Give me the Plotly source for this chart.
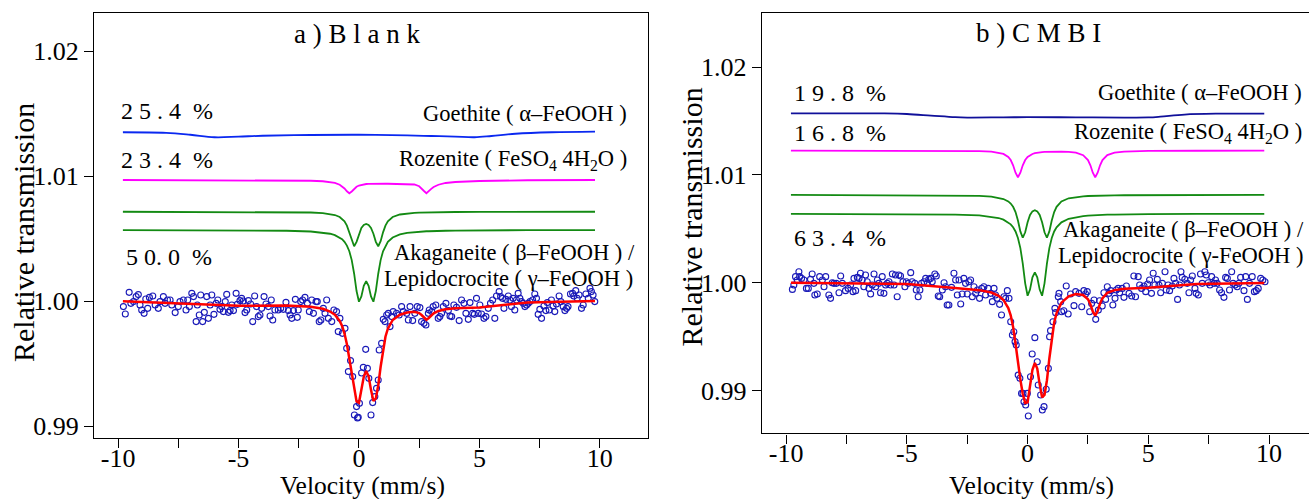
import plotly.graph_objects as go

W, H = 1309, 499

# ---------------- data: panel a (Blank) ----------------
POINTS_A = [
    (-9.78, 0.99955), (-9.70, 0.99896), (-9.54, 1.00069), (-9.47, 0.99981), (-9.36, 0.99995),
    (-9.25, 1.00035), (-9.16, 1.00051), (-9.09, 0.99968), (-9.02, 0.99928), (-8.92, 0.99901),
    (-8.85, 1.00016), (-8.77, 0.99941), (-8.70, 1.00029), (-8.56, 1.00040), (-8.46, 0.99968),
    (-8.33, 0.99941), (-8.26, 0.99995), (-8.12, 1.00035), (-8.05, 0.99981), (-7.95, 1.00008),
    (-7.84, 1.00008), (-7.77, 0.99968), (-7.63, 0.99907), (-7.50, 0.99955), (-7.43, 0.99995),
    (-7.29, 1.00008), (-7.18, 0.99928), (-7.11, 1.00008), (-7.04, 0.99955), (-6.94, 1.00061),
    (-6.87, 1.00035), (-6.76, 0.99835), (-6.71, 0.99968), (-6.63, 0.99888), (-6.57, 1.00048),
    (-6.49, 0.99835), (-6.42, 0.99909), (-6.32, 1.00035), (-6.25, 0.99861), (-6.18, 0.99968),
    (-6.11, 1.00048), (-6.02, 0.99893), (-5.93, 0.99981), (-5.86, 1.00008), (-5.77, 0.99933),
    (-5.70, 0.99955), (-5.63, 0.99915), (-5.55, 0.99995), (-5.49, 1.00053), (-5.42, 0.99909),
    (-5.35, 0.99923), (-5.28, 0.99968), (-5.21, 0.99923), (-5.10, 1.00061), (-5.05, 0.99973),
    (-4.94, 1.00003), (-4.87, 1.00021), (-4.80, 1.00000), (-4.73, 0.99907), (-4.66, 0.99928),
    (-4.59, 1.00003), (-4.50, 0.99976), (-4.41, 0.99835), (-4.33, 1.00040), (-4.25, 0.99955),
    (-4.18, 0.99875), (-4.11, 0.99888), (-4.04, 0.99941), (-3.94, 1.00035), (-3.86, 0.99976),
    (-3.76, 0.99955), (-3.69, 0.99880), (-3.64, 1.00008), (-3.58, 0.99848), (-3.49, 0.99928),
    (-3.35, 0.99928), (-3.25, 0.99941), (-3.14, 0.99933), (-3.03, 0.99989), (-2.93, 0.99923),
    (-2.86, 0.99888), (-2.79, 0.99861), (-2.72, 0.99923), (-2.64, 1.00013), (-2.56, 0.99869),
    (-2.52, 0.99928), (-2.42, 0.99995), (-2.34, 1.00008), (-2.24, 1.00029), (-2.14, 0.99981),
    (-2.06, 0.99915), (-1.96, 1.00008), (-1.89, 0.99901), (-1.78, 0.99995), (-1.73, 0.99995),
    (-1.65, 0.99835), (-1.58, 0.99848), (-1.48, 0.99941), (-1.41, 0.99901), (-1.34, 1.00008),
    (-1.27, 0.99861), (-1.13, 0.99835), (-1.04, 0.99928), (-0.93, 0.99915), (-0.86, 0.99755),
    (-0.79, 0.99861), (-0.69, 0.99741), (-0.58, 0.99781), (-0.51, 0.99621), (-0.44, 0.99435),
    (-0.35, 0.99523), (-0.26, 0.99395), (-0.19, 0.99088), (-0.10, 0.99155), (-0.06, 0.99064),
    (-0.03, 0.99069), (0.02, 0.99181), (0.11, 0.99424), (0.18, 0.99469), (0.28, 0.99613),
    (0.35, 0.99461), (0.41, 0.99381), (0.50, 0.99088), (0.57, 0.99187), (0.66, 0.99235),
    (0.73, 0.99301), (0.80, 0.99368), (0.84, 0.99608), (0.94, 0.99661), (1.01, 0.99853),
    (1.08, 0.99835), (1.15, 0.99888), (1.22, 0.99901), (1.29, 0.99795), (1.36, 0.99875),
    (1.42, 0.99915), (1.56, 0.99901), (1.67, 0.99888), (1.77, 0.99955), (1.84, 0.99915),
    (1.98, 0.99901), (2.05, 0.99848), (2.12, 0.99955), (2.23, 0.99843), (2.32, 0.99901),
    (2.42, 0.99955), (2.53, 0.99947), (2.60, 0.99835), (2.70, 0.99821), (2.78, 0.99808),
    (2.88, 0.99901), (2.92, 0.99928), (3.02, 0.99915), (3.08, 0.99955), (3.19, 0.99968),
    (3.29, 0.99861), (3.36, 0.99875), (3.43, 0.99901), (3.50, 0.99955), (3.61, 0.99981),
    (3.71, 0.99923), (3.78, 0.99880), (3.85, 0.99875), (3.94, 0.99968), (4.05, 0.99949),
    (4.16, 0.99843), (4.26, 1.00008), (4.36, 0.99981), (4.44, 0.99901), (4.54, 0.99853),
    (4.61, 0.99987), (4.72, 0.99901), (4.79, 0.99893), (4.88, 1.00021), (4.95, 0.99901),
    (5.02, 0.99968), (5.09, 0.99896), (5.19, 0.99861), (5.27, 0.99875), (5.37, 0.99941),
    (5.46, 0.99981), (5.55, 1.00008), (5.64, 0.99861), (5.71, 1.00040), (5.82, 1.00075),
    (5.88, 1.00035), (5.96, 1.00021), (6.02, 0.99941), (6.10, 1.00013), (6.20, 1.00040),
    (6.27, 1.00008), (6.33, 0.99955), (6.40, 1.00021), (6.47, 0.99928), (6.54, 1.00008),
    (6.61, 1.00061), (6.68, 1.00021), (6.75, 0.99995), (6.82, 0.99981), (6.89, 0.99955),
    (6.96, 0.99968), (7.03, 0.99981), (7.10, 0.99995), (7.21, 1.00008), (7.30, 1.00056),
    (7.37, 1.00021), (7.44, 0.99893), (7.51, 0.99933), (7.58, 0.99861), (7.68, 0.99960),
    (7.76, 0.99923), (7.82, 0.99987), (7.90, 0.99928), (7.99, 1.00008), (8.06, 0.99960),
    (8.13, 0.99915), (8.20, 0.99976), (8.31, 1.00040), (8.38, 0.99995), (8.48, 0.99955),
    (8.55, 0.99923), (8.62, 0.99941), (8.68, 0.99955), (8.78, 1.00056), (8.87, 1.00061),
    (8.92, 1.00040), (9.00, 1.00083), (9.06, 1.00021), (9.14, 1.00048), (9.24, 0.99941),
    (9.31, 0.99968), (9.42, 1.00056), (9.52, 1.00021), (9.59, 1.00101), (9.65, 1.00075),
    (9.72, 1.00048), (9.79, 0.99995),
]

# common velocity grid of the fitted curves
VGRID = [-9.8, -7, -5, -3, -2, -1.5, -1.2, -1.0, -0.8, -0.7, -0.6, -0.5, -0.4, -0.3, -0.2, -0.1,
         0.0, 0.1, 0.2, 0.3, 0.4, 0.5, 0.6, 0.7, 0.8, 0.9, 1.0, 1.1, 1.2, 1.4, 1.7, 2.0, 2.3, 2.5,
         2.6, 2.7, 2.8, 2.9, 3.0, 3.1, 3.3, 3.6, 4.0, 5.0, 7.0, 9.8]

FIT_A = [0.99998, 0.99978, 0.99961, 0.99963, 0.99954, 0.99938, 0.99916, 0.99890, 0.99840, 0.99800,
         0.99740, 0.99654, 0.99539, 0.99412, 0.99284, 0.99197, 0.99186, 0.99281, 0.99394, 0.99440,
         0.99397, 0.99289, 0.99200, 0.99221, 0.99324, 0.99474, 0.99615, 0.99714, 0.99778, 0.99848,
         0.99890, 0.99908, 0.99913, 0.99903, 0.99888, 0.99867, 0.99850, 0.99864, 0.99885, 0.99901,
         0.99920, 0.99934, 0.99942, 0.99948, 0.99988, 1.00000]
ROZ_A = [1.00968, 1.00968, 1.00967, 1.00965, 1.00962, 1.00958, 1.00952, 1.00945, 1.00930, 1.00918,
         1.00900, 1.00878, 1.00862, 1.00876, 1.00898, 1.00914, 1.00924, 1.00930, 1.00934, 1.00936,
         1.00937, 1.00938, 1.00938, 1.00938, 1.00938, 1.00938, 1.00938, 1.00938, 1.00938, 1.00938,
         1.00938, 1.00937, 1.00932, 1.00918, 1.00902, 1.00880, 1.00862, 1.00876, 1.00897, 1.00912,
         1.00930, 1.00944, 1.00952, 1.00960, 1.00966, 1.00968]
AKA1_A = [1.00714, 1.00713, 1.00713, 1.00711, 1.00708, 1.00703, 1.00696, 1.00688, 1.00672, 1.00658,
          1.00637, 1.00603, 1.00549, 1.00479, 1.00438, 1.00473, 1.00538, 1.00584, 1.00608, 1.00616,
          1.00608, 1.00584, 1.00538, 1.00473, 1.00438, 1.00479, 1.00549, 1.00603, 1.00637, 1.00672,
          1.00692, 1.00701, 1.00705, 1.00707, 1.00707, 1.00708, 1.00708, 1.00709, 1.00709, 1.00709,
          1.00710, 1.00711, 1.00712, 1.00713, 1.00713, 1.00714]
AKA2_A = [1.00567, 1.00567, 1.00566, 1.00562, 1.00556, 1.00548, 1.00538, 1.00527, 1.00508, 1.00494,
          1.00473, 1.00443, 1.00398, 1.00327, 1.00218, 1.00080, 0.99994, 1.00037, 1.00122, 1.00158,
          1.00122, 1.00037, 0.99994, 1.00080, 1.00218, 1.00327, 1.00398, 1.00443, 1.00473, 1.00508,
          1.00533, 1.00545, 1.00552, 1.00555, 1.00556, 1.00557, 1.00558, 1.00558, 1.00559, 1.00560,
          1.00561, 1.00562, 1.00563, 1.00565, 1.00567, 1.00567]
GOE_VA = [-9.8, -8, -7, -6, -5, -4, -2, 0, 2, 3, 4, 4.8, 5.5, 6.5, 8, 9.8]
GOE_A = [1.01350, 1.01345, 1.01330, 1.01310, 1.01315, 1.01322, 1.01328, 1.01330, 1.01325, 1.01320,
         1.01315, 1.01310, 1.01320, 1.01338, 1.01350, 1.01355]

# ---------------- data: panel b (CMBI) ----------------
POINTS_B = [
    (-9.74, 0.99938), (-9.68, 0.99978), (-9.61, 1.00056), (-9.54, 1.00025), (-9.47, 1.00102),
    (-9.44, 1.00056), (-9.36, 1.00040), (-9.26, 1.00025), (-9.16, 0.99947), (-9.08, 0.99947),
    (-8.99, 1.00031), (-8.92, 1.00080), (-8.85, 0.99994), (-8.81, 0.99886), (-8.71, 0.99895),
    (-8.61, 1.00056), (-8.50, 1.00025), (-8.43, 0.99963), (-8.36, 1.00056), (-8.23, 0.99886),
    (-8.16, 0.99855), (-8.09, 1.00000), (-8.02, 0.99994), (-7.92, 0.99994), (-7.81, 0.99907),
    (-7.74, 1.00062), (-7.67, 0.99994), (-7.54, 0.99926), (-7.43, 0.99947), (-7.33, 0.99978),
    (-7.23, 0.99917), (-7.19, 1.00040), (-7.12, 0.99926), (-7.05, 1.00049), (-6.98, 1.00040),
    (-6.92, 1.00087), (-6.85, 1.00025), (-6.78, 0.99963), (-6.71, 1.00071), (-6.64, 1.00009),
    (-6.57, 0.99947), (-6.50, 0.99895), (-6.43, 0.99978), (-6.36, 1.00080), (-6.29, 0.99963),
    (-6.22, 1.00025), (-6.16, 0.99994), (-6.09, 0.99907), (-6.02, 1.00056), (-5.95, 0.99901),
    (-5.88, 0.99978), (-5.81, 0.99994), (-5.74, 1.00009), (-5.67, 0.99978), (-5.60, 1.00080),
    (-5.53, 0.99978), (-5.47, 1.00071), (-5.40, 0.99870), (-5.33, 1.00071), (-5.26, 1.00062),
    (-5.16, 1.00009), (-5.08, 0.99963), (-5.02, 1.00009), (-4.94, 0.99994), (-4.84, 1.00093),
    (-4.78, 1.00009), (-4.67, 0.99994), (-4.61, 0.99932), (-4.53, 0.99870), (-4.46, 0.99932),
    (-4.39, 0.99994), (-4.29, 1.00009), (-4.22, 1.00040), (-4.15, 0.99994), (-4.09, 1.00031),
    (-4.02, 1.00040), (-3.95, 1.00009), (-3.84, 1.00080), (-3.78, 1.00062), (-3.70, 0.99876),
    (-3.64, 0.99870), (-3.53, 0.99932), (-3.46, 1.00000), (-3.40, 0.99963), (-3.33, 0.99793),
    (-3.26, 0.99793), (-3.15, 0.99957), (-3.05, 1.00087), (-2.98, 1.00025), (-2.91, 0.99886),
    (-2.84, 1.00025), (-2.77, 0.99802), (-2.71, 0.99895), (-2.64, 1.00040), (-2.57, 0.99994),
    (-2.50, 0.99895), (-2.43, 1.00009), (-2.36, 1.00025), (-2.29, 0.99870), (-2.22, 0.99963),
    (-2.15, 0.99901), (-2.08, 0.99932), (-1.99, 0.99855), (-1.90, 0.99947), (-1.81, 0.99963),
    (-1.74, 0.99886), (-1.63, 0.99947), (-1.53, 0.99901), (-1.46, 0.99824), (-1.39, 0.99947),
    (-1.33, 0.99886), (-1.26, 0.99855), (-1.16, 0.99799), (-1.08, 0.99700), (-0.98, 0.99870),
    (-0.91, 0.99855), (-0.84, 0.99926), (-0.77, 0.99855), (-0.70, 0.99638), (-0.63, 0.99515),
    (-0.57, 0.99545), (-0.52, 0.99453), (-0.47, 0.99422), (-0.39, 0.99143), (-0.32, 0.99113),
    (-0.25, 0.98973), (-0.19, 0.98973), (-0.15, 0.98896), (-0.08, 0.98865), (-0.01, 0.98973),
    (0.03, 0.98763), (0.12, 0.99128), (0.19, 0.99338), (0.30, 0.99490), (0.40, 0.99267),
    (0.44, 0.99051), (0.54, 0.98958), (0.61, 0.98819), (0.68, 0.98850), (0.77, 0.99011),
    (0.86, 0.99205), (0.91, 0.99499), (0.95, 0.99555), (1.05, 0.99638), (1.13, 0.99762),
    (1.16, 0.99722), (1.27, 0.99870), (1.30, 0.99901), (1.37, 0.99824), (1.41, 0.99731),
    (1.50, 0.99740), (1.60, 0.99969), (1.68, 0.99709), (1.78, 0.99895), (1.92, 0.99787),
    (1.99, 0.99917), (2.13, 0.99901), (2.24, 0.99777), (2.33, 0.99926), (2.40, 0.99895),
    (2.47, 0.99917), (2.57, 0.99731), (2.65, 0.99808), (2.75, 0.99839), (2.82, 0.99660),
    (2.93, 0.99746), (2.98, 0.99833), (3.09, 0.99784), (3.16, 0.99907), (3.23, 0.99845),
    (3.30, 0.99963), (3.37, 0.99901), (3.44, 0.99926), (3.53, 0.99793), (3.62, 0.99855),
    (3.67, 0.99932), (3.75, 0.99947), (3.81, 0.99907), (3.92, 0.99947), (3.99, 0.99864),
    (4.09, 0.99969), (4.20, 0.99901), (4.31, 0.99876), (4.40, 1.00062), (4.47, 0.99870),
    (4.58, 1.00056), (4.64, 0.99978), (4.72, 0.99947), (4.82, 0.99969), (4.89, 0.99917),
    (4.97, 0.99988), (5.05, 1.00025), (5.13, 0.99901), (5.20, 1.00087), (5.27, 0.99978),
    (5.37, 1.00031), (5.44, 0.99978), (5.51, 0.99907), (5.58, 0.99994), (5.69, 1.00102),
    (5.74, 0.99932), (5.82, 0.99978), (5.88, 0.99926), (5.99, 0.99969), (6.06, 1.00040),
    (6.13, 0.99994), (6.21, 0.99845), (6.29, 0.99978), (6.35, 1.00102), (6.40, 1.00049),
    (6.51, 1.00031), (6.61, 0.99994), (6.68, 0.99907), (6.75, 1.00025), (6.82, 1.00062),
    (6.93, 0.99947), (6.98, 0.99901), (7.07, 0.99886), (7.16, 1.00080), (7.23, 0.99994),
    (7.34, 1.00102), (7.40, 1.00071), (7.48, 1.00000), (7.55, 0.99978), (7.62, 1.00056),
    (7.72, 0.99994), (7.78, 1.00025), (7.85, 0.99994), (7.95, 0.99932), (8.03, 0.99907),
    (8.13, 0.99864), (8.20, 1.00049), (8.27, 1.00040), (8.36, 0.99932), (8.45, 1.00102),
    (8.51, 0.99994), (8.59, 0.99978), (8.68, 0.99963), (8.75, 0.99994), (8.82, 1.00049),
    (8.96, 0.99926), (9.03, 1.00056), (9.10, 0.99845), (9.19, 0.99994), (9.30, 1.00056),
    (9.39, 0.99917), (9.47, 0.99926), (9.55, 0.99947), (9.65, 1.00040), (9.74, 1.00025),
    (9.83, 1.00009),
]

FIT_B = [0.99999, 0.99997, 0.99989, 0.99950, 0.99931, 0.99909, 0.99879, 0.99840, 0.99765, 0.99698,
         0.99590, 0.99434, 0.99254, 0.99101, 0.98967, 0.98884, 0.98891, 0.99032, 0.99191, 0.99255,
         0.99203, 0.99057, 0.98936, 0.98960, 0.99093, 0.99297, 0.99492, 0.99631, 0.99718, 0.99815,
         0.99874, 0.99894, 0.99886, 0.99846, 0.99800, 0.99734, 0.99694, 0.99737, 0.99807, 0.99857,
         0.99906, 0.99931, 0.99943, 0.99954, 0.99989, 0.99998]
ROZ_B = [1.01225, 1.01225, 1.01224, 1.01223, 1.01220, 1.01215, 1.01207, 1.01195, 1.01167, 1.01138,
         1.01089, 1.01020, 1.00978, 1.01020, 1.01089, 1.01138, 1.01166, 1.01184, 1.01194, 1.01201,
         1.01206, 1.01209, 1.01212, 1.01213, 1.01214, 1.01215, 1.01215, 1.01216, 1.01216, 1.01215,
         1.01213, 1.01206, 1.01183, 1.01137, 1.01089, 1.01020, 1.00978, 1.01020, 1.01089, 1.01138,
         1.01184, 1.01207, 1.01216, 1.01222, 1.01224, 1.01225]
AKA1_B = [1.00814, 1.00813, 1.00812, 1.00810, 1.00805, 1.00798, 1.00788, 1.00776, 1.00754, 1.00734,
          1.00704, 1.00655, 1.00577, 1.00476, 1.00417, 1.00468, 1.00561, 1.00628, 1.00662, 1.00673,
          1.00662, 1.00628, 1.00561, 1.00468, 1.00417, 1.00476, 1.00577, 1.00655, 1.00704, 1.00754,
          1.00783, 1.00795, 1.00801, 1.00804, 1.00805, 1.00806, 1.00806, 1.00807, 1.00807, 1.00808,
          1.00809, 1.00810, 1.00811, 1.00812, 1.00813, 1.00814]
AKA2_B = [1.00639, 1.00638, 1.00637, 1.00632, 1.00624, 1.00613, 1.00600, 1.00585, 1.00560, 1.00541,
          1.00514, 1.00475, 1.00415, 1.00321, 1.00177, 0.99994, 0.99879, 0.99936, 1.00049, 1.00096,
          1.00049, 0.99936, 0.99879, 0.99994, 1.00177, 1.00321, 1.00415, 1.00475, 1.00514, 1.00560,
          1.00593, 1.00609, 1.00618, 1.00622, 1.00624, 1.00625, 1.00626, 1.00627, 1.00628, 1.00629,
          1.00631, 1.00632, 1.00634, 1.00636, 1.00638, 1.00639]
GOE_VB = [-9.8, -6, -5, -4, -3, -2.5, -1, 0, 2, 4, 5, 5.5, 6.5, 8, 9.8]
GOE_B = [1.01571, 1.01570, 1.01565, 1.01550, 1.01535, 1.01532, 1.01534, 1.01535, 1.01534, 1.01532,
         1.01533, 1.01540, 1.01560, 1.01568, 1.01569]

XTICKS = [-10, -5, 0, 5, 10]
XTICK_TEXT = ["-10", "-5", "0", "5", "10"]
YTICKS = [0.99, 1.00, 1.01, 1.02]
YTICK_TEXT = ["0.99", "1.00", "1.01", "1.02"]

for arr in (FIT_A, ROZ_A, AKA1_A, AKA2_A, FIT_B, ROZ_B, AKA1_B, AKA2_B):
    assert len(arr) == len(VGRID)

FONT = "Liberation Serif, Times New Roman, Times, serif"
PT_COLOR = "#1a1ab8"
RED = "#ff0000"
GREEN = "#138a13"
MAGENTA = "#ff00ff"

fig = go.Figure()


def add_panel(points, fit, roz, aka1, aka2, goev, goe, goe_color, xa, ya):
    fig.add_trace(go.Scatter(x=goev, y=goe, mode="lines", line=dict(color=goe_color, width=1.8, shape="spline"),
                             xaxis=xa, yaxis=ya, hoverinfo="skip"))
    fig.add_trace(go.Scatter(x=VGRID, y=roz, mode="lines", line=dict(color=MAGENTA, width=1.8),
                             xaxis=xa, yaxis=ya))
    fig.add_trace(go.Scatter(x=VGRID, y=aka1, mode="lines", line=dict(color=GREEN, width=1.8),
                             xaxis=xa, yaxis=ya))
    fig.add_trace(go.Scatter(x=VGRID, y=aka2, mode="lines", line=dict(color=GREEN, width=1.8),
                             xaxis=xa, yaxis=ya))
    fig.add_trace(go.Scatter(x=[p[0] for p in points], y=[p[1] for p in points], mode="markers",
                             marker=dict(symbol="circle-open", size=6, color=PT_COLOR, line=dict(width=1.1)),
                             xaxis=xa, yaxis=ya))
    fig.add_trace(go.Scatter(x=VGRID, y=fit, mode="lines", line=dict(color=RED, width=2.5),
                             xaxis=xa, yaxis=ya))


add_panel(POINTS_A, FIT_A, ROZ_A, AKA1_A, AKA2_A, GOE_VA, GOE_A, "#0a28f0", "x", "y")
add_panel(POINTS_B, FIT_B, ROZ_B, AKA1_B, AKA2_B, GOE_VB, GOE_B, "#10109a", "x2", "y2")

TICKFONT = dict(family=FONT, size=26, color="black")
axis_common = dict(showgrid=False, zeroline=False, showline=True, linecolor="black", linewidth=1.3,
                   ticks="outside", ticklen=9, tickwidth=1.2, tickcolor="black",
                   tickfont=TICKFONT, automargin=False)

xcommon = dict(axis_common, tickmode="array", tickvals=XTICKS, ticktext=XTICK_TEXT, ticklabelstandoff=-13,
               minor=dict(tickmode="array", tickvals=[-7.5, -2.5, 2.5, 7.5], ticks="outside",
                          ticklen=9, tickwidth=1.2, tickcolor="black"))
ycommon = dict(axis_common, tickmode="array", tickvals=YTICKS, ticktext=YTICK_TEXT)

fig.update_layout(
    width=W, height=H, margin=dict(l=0, r=0, t=0, b=0, pad=0),
    template="none", showlegend=False,
    font=dict(family=FONT, color="black"),
    paper_bgcolor="white", plot_bgcolor="white",
    xaxis=dict(xcommon, domain=[94 / W, 648 / W], range=[-11, 12], anchor="y", mirror=True),
    yaxis=dict(ycommon, domain=[1 - 438.3 / H, 1 - 13.3 / H], range=[0.989016, 1.023016], anchor="x",
               mirror=True),
    xaxis2=dict(xcommon, domain=[761.95 / W, 1.0], range=[-11, 11.652], anchor="y2", mirror=True),
    yaxis2=dict(ycommon, domain=[1 - 433.4 / H, 1 - 13.3 / H], range=[0.98602, 1.02499], anchor="x2",
                mirror=False),
)

NB = "\u00a0"


def ann(text, x, y, size, xanchor="left", angle=0):
    fig.add_annotation(text=text, x=x / W, y=1 - y / H, xref="paper", yref="paper",
                       xanchor=xanchor, yanchor="middle", showarrow=False, textangle=angle,
                       font=dict(family=FONT, size=size, color="black"))


# panel a texts
ann("a ) B l a n k", 356.7, 34, 27, "center")
ann("2 5 . 4" + NB + NB + "%", 119, 111, 24)
ann("2 3 . 4" + NB + NB + "%", 119, 160, 24)
ann("5 0. 0" + NB + NB + "%", 124, 256.5, 24)
ann("Goethite ( α–FeOOH )", 629, 113, 22.5, "right")
ann("Rozenite ( FeSO<sub>4</sub> 4H<sub>2</sub>O )", 629, 160, 22.5, "right")
ann("Akaganeite ( β–FeOOH ) /", 637, 252.5, 22.5, "right")
ann("Lepidocrocite ( γ–FeOOH )", 635, 278.5, 22.5, "right")
ann("Relative transmission", 23, 233, 30, "center", -90)
ann("Velocity (mm/s)", 362, 485, 25.5, "center")

# panel b texts
ann("b ) C M B I", 1038, 32.5, 27, "center")
ann("1 9 . 8" + NB + NB + "%", 792, 92.5, 24)
ann("1 6 . 8" + NB + NB + "%", 792, 132.5, 24)
ann("6 3 . 4" + NB + NB + "%", 792, 237.5, 24)
ann("Goethite ( α–FeOOH )", 1304, 93, 22.5, "right")
ann("Rozenite ( FeSO<sub>4</sub> 4H<sub>2</sub>O )", 1304, 133, 22.5, "right")
ann("Akaganeite ( β–FeOOH ) /", 1306, 229, 22.5, "right")
ann("Lepidocrocite ( γ-FeOOH )", 1305, 255.5, 22.5, "right")
ann("Relative transmission", 691, 217.5, 30, "center", -90)
ann("Velocity (mm/s)", 1031, 485, 25.5, "center")

fig.write_html("out.html", config={"displayModeBar": False},
               post_script="document.body.style.margin='0px';document.body.style.padding='0px';")
